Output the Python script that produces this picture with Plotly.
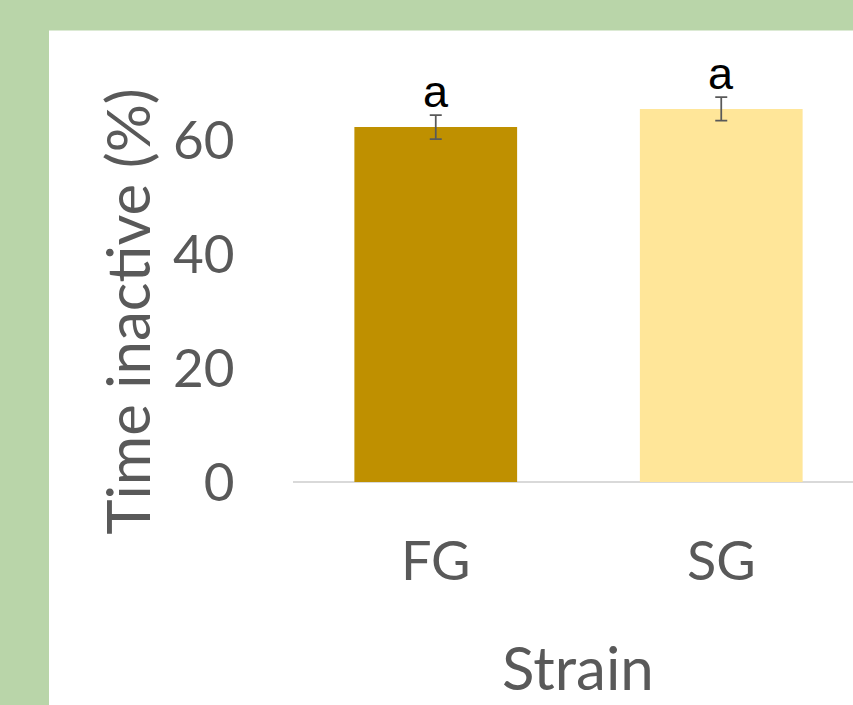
import plotly.graph_objects as go

# Data
strains = ["FG", "SG"]
inactive_pct = [62.4, 65.6]
sem = [2.1, 2.05]
letters = ["a", "a"]
bar_colors = ["#BF9000", "#FFE699"]
y_ticks = [0, 20, 40, 60]

W, H = 853, 705
L, T = 293, 26.5
plot_w = W - L
plot_h = 456
B = H - T - plot_h

text_gray = "#595959"
font_main = "Lato, Open Sans, sans-serif"

fig = go.Figure(
    go.Bar(
        x=strains,
        y=inactive_pct,
        marker=dict(color=bar_colors, line=dict(width=0)),
        width=0.57,
        error_y=dict(type="data", array=sem, visible=True,
                     color=text_gray, thickness=1.75, width=6),
    )
)

# significance letters above each error bar
for s, v, e, lab in zip(strains, inactive_pct, sem, letters):
    fig.add_annotation(x=s, y=v + e, text=lab, showarrow=False,
                       xref="x", yref="y", yanchor="bottom", yshift=-4,
                       font=dict(family="Liberation Sans, Arial, sans-serif",
                                 size=45, color="#000000"))

# axis titles
fig.add_annotation(text="Time inactive (%)", xref="paper", yref="paper",
                   x=(127 - L) / plot_w, y=(T + plot_h - 312) / plot_h,
                   showarrow=False, textangle=-90,
                   xanchor="center", yanchor="middle",
                   font=dict(family=font_main, size=60, color=text_gray))
fig.add_annotation(text="Strain", xref="paper", yref="paper",
                   x=(578 - L) / plot_w, y=(T + plot_h - 668) / plot_h,
                   showarrow=False, xanchor="center", yanchor="middle",
                   font=dict(family=font_main, size=60, color=text_gray))

# white chart panel on the green page
fig.add_shape(type="rect", xref="paper", yref="paper", layer="below",
              x0=(49 - L) / plot_w, x1=1.01,
              y0=(T + plot_h - H - 10) / plot_h, y1=(T + plot_h - 30) / plot_h,
              fillcolor="#FFFFFF", line=dict(width=0))

fig.update_layout(
    width=W, height=H,
    margin=dict(l=L, r=0, t=T, b=B, pad=0),
    paper_bgcolor="#B9D5A9",
    plot_bgcolor="rgba(0,0,0,0)",
    showlegend=False,
    bargap=0.43,
    xaxis=dict(range=[-0.5, (plot_w / 285.5) - 0.5], showgrid=False,
               zeroline=False, showline=False,
               ticks="outside", ticklen=32, tickcolor="rgba(0,0,0,0)",
               tickfont=dict(family=font_main, size=54, color=text_gray)),
    yaxis=dict(range=[0, 80], tickvals=y_ticks, showgrid=False,
               zeroline=True, zerolinecolor="#D9D9D9", zerolinewidth=2,
               showline=False,
               ticks="outside", ticklen=47, tickcolor="rgba(0,0,0,0)",
               tickfont=dict(family=font_main, size=53, color=text_gray)),
)

fig.write_html("out.html")
